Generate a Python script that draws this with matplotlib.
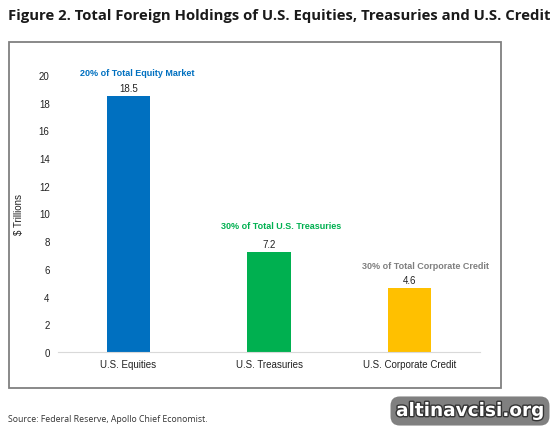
import matplotlib
matplotlib.use("Agg")
import matplotlib.pyplot as plt
import matplotlib.patheffects as pe
from matplotlib.patches import Rectangle

# data
categories = ["U.S. Equities", "U.S. Treasuries", "U.S. Corporate Credit"]
values = [18.5, 7.2, 4.6]
value_labels = ["18.5", "7.2", "4.6"]
notes = ["20% of Total Equity Market", "30% of Total U.S. Treasuries",
         "30% of Total Corporate Credit"]
bar_colors = ["#0070C0", "#00B050", "#FFC000"]
note_colors = ["#0070C0", "#00B050", "#7F7F7F"]
yticks = [0, 2, 4, 6, 8, 10, 12, 14, 16, 18, 20]

plt.rcParams["font.family"] = ["Liberation Sans", "DejaVu Sans"]

W, H = 559, 431
fig = plt.figure(figsize=(W / 100, H / 100), dpi=100)

# frame around the chart
fig.patches.append(Rectangle((9 / W, 1 - 389 / H), 492 / W, 346 / H,
                             transform=fig.transFigure, fill=False,
                             edgecolor="#808080", linewidth=1.3))

ax = fig.add_axes([58 / W, 1 - 353 / H, 422 / W, 277 / H])
x = range(len(categories))
ax.bar(x, values, width=0.31, color=bar_colors)
ax.set_xlim(-0.5, 2.5)
ax.set_ylim(0, 20)
ax.set_yticks(yticks)
ax.set_xticks(list(x))
ax.set_xticklabels(categories)
ax.tick_params(axis="both", length=0, labelsize=7, colors="#222222")
ax.tick_params(axis="y", pad=6)
ax.tick_params(axis="x", pad=5)
for s in ["top", "right", "left"]:
    ax.spines[s].set_visible(False)
ax.spines["bottom"].set_color("#D9D9D9")
ax.set_ylabel("$ Trillions", fontsize=7, color="#222222", labelpad=11)

note_dx = [9, 12, 16]
note_dy = [23, 27, 23]
for i, v in enumerate(values):
    ax.annotate(value_labels[i], (i, v), xytext=(0, 8), textcoords="offset pixels",
                ha="center", va="center", fontsize=7, color="#222222")
    ax.annotate(notes[i], (i, v), xytext=(note_dx[i], note_dy[i]),
                textcoords="offset pixels", ha="center", va="center",
                fontsize=6.5, fontweight="bold", color=note_colors[i],
                annotation_clip=False)

fig.text(8 / W, 1 - 16 / H,
         "Figure 2. Total Foreign Holdings of U.S. Equities, Treasuries and U.S. Credit",
         fontsize=10.75, fontweight="bold", family=["Open Sans", "DejaVu Sans"],
         color="#1a1a1a", ha="left", va="center")

fig.text(8 / W, 1 - 420 / H, "Source: Federal Reserve, Apollo Chief Economist.",
         fontsize=6.3, family=["Open Sans", "DejaVu Sans"], color="#333333",
         ha="left", va="center")

# watermark
wm = fig.text(470 / W, 1 - 412 / H, "altinavcisi.org", fontsize=13.3, fontweight="bold",
              family=["DejaVu Sans"], color="white", ha="center", va="center",
              bbox=dict(boxstyle="round,pad=0.3,rounding_size=0.5", fc="#808080", ec="none"))
wm.set_path_effects([pe.withStroke(linewidth=2, foreground="#333333")])

fig.savefig("out.png", dpi=100)
